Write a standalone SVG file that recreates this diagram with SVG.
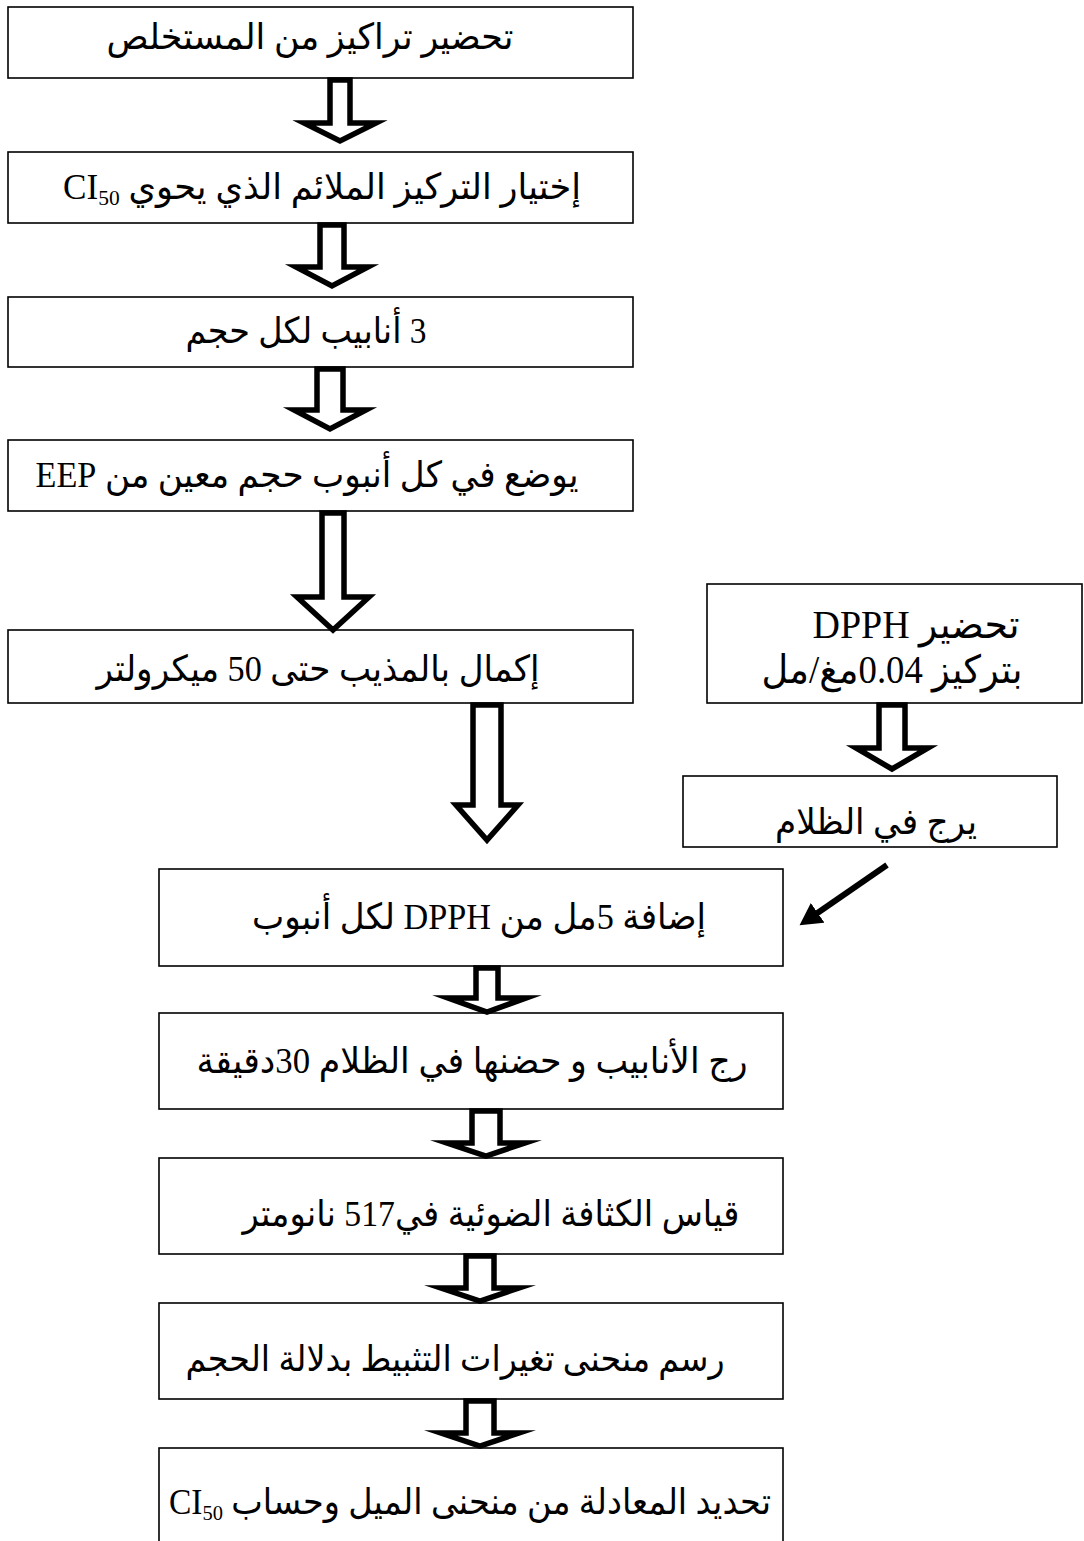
<svg xmlns="http://www.w3.org/2000/svg" width="1084" height="1541" viewBox="0 0 1084 1541">
<style>
.box{fill:#fff;stroke:#000;stroke-width:1.6}
.blk{fill:#fff;stroke:#000;stroke-width:5.5;stroke-linejoin:miter;stroke-miterlimit:10}
.t{font-family:"Liberation Serif","DejaVu Sans",serif;font-size:36px;fill:#000;text-anchor:middle;direction:rtl}
.big{font-size:39px}
.sub{font-size:22px;baseline-shift:-6px}
.diag{stroke:#000;stroke-width:6;fill:none}
</style>
<defs>
<marker id="ah" markerUnits="userSpaceOnUse" markerWidth="24" markerHeight="26" refX="2" refY="12" orient="auto">
<path d="M0,0 L22,12 L0,24 Z" fill="#000"/>
</marker>
</defs>
<rect width="1084" height="1541" fill="#fff"/>
<g id="n1"><rect class="box" x="8" y="7" width="625" height="71"/>
<text class="t" x="310" y="49" textLength="407" lengthAdjust="spacingAndGlyphs">تحضير تراكيز من المستخلص</text></g>
<g id="n2"><rect class="box" x="8" y="152" width="625" height="71"/>
<text class="t" x="322" y="199" textLength="518" lengthAdjust="spacingAndGlyphs">إختيار التركيز الملائم الذي يحوي CI<tspan class="sub">50</tspan></text></g>
<g id="n3"><rect class="box" x="8" y="297" width="625" height="70"/>
<text class="t" x="306" y="343" textLength="241" lengthAdjust="spacingAndGlyphs">3 أنابيب لكل حجم</text></g>
<g id="n4"><rect class="box" x="8" y="440" width="625" height="71"/>
<text class="t" x="307" y="487" textLength="543" lengthAdjust="spacingAndGlyphs">يوضع في كل أنبوب حجم معين من EEP</text></g>
<g id="n5"><rect class="box" x="8" y="630" width="625" height="73"/>
<text class="t" x="318" y="681" textLength="443" lengthAdjust="spacingAndGlyphs">إكمال بالمذيب حتى 50 ميكرولتر</text></g>
<g id="n6"><rect class="box" x="707" y="584" width="375" height="119"/>
<text class="t big" x="916" y="638" textLength="207" lengthAdjust="spacingAndGlyphs">تحضير DPPH</text>
<text class="t big" x="892" y="683" textLength="261" lengthAdjust="spacingAndGlyphs">بتركيز 0.04مغ/مل</text></g>
<g id="n7"><rect class="box" x="683" y="776" width="374" height="71"/>
<text class="t" x="876" y="834" textLength="202" lengthAdjust="spacingAndGlyphs">يرج في الظلام</text></g>
<g id="n8"><rect class="box" x="159" y="869" width="624" height="97"/>
<text class="t" x="479" y="929" textLength="454" lengthAdjust="spacingAndGlyphs">إضافة 5مل من DPPH لكل أنبوب</text></g>
<g id="n9"><rect class="box" x="159" y="1013" width="624" height="96"/>
<text class="t" x="472" y="1073" textLength="551" lengthAdjust="spacingAndGlyphs">رج الأنابيب و حضنها في الظلام 30دقيقة</text></g>
<g id="n10"><rect class="box" x="159" y="1158" width="624" height="96"/>
<text class="t" x="491" y="1226" textLength="497" lengthAdjust="spacingAndGlyphs">قياس الكثافة الضوئية في517 نانومتر</text></g>
<g id="n11"><rect class="box" x="159" y="1303" width="624" height="96"/>
<text class="t" x="455" y="1371" textLength="539" lengthAdjust="spacingAndGlyphs">رسم منحنى تغيرات التثبيط بدلالة الحجم</text></g>
<g id="n12"><rect class="box" x="159" y="1448" width="624" height="100"/>
<text class="t" x="470" y="1514" textLength="602" lengthAdjust="spacingAndGlyphs">تحديد المعادلة من منحنى الميل وحساب CI<tspan class="sub">50</tspan></text></g>
<g id="connectors">
<path class="blk" d="M330,80 L350,80 L350,123 L376,123 L340,141 L304,123 L330,123 Z"/>
<path class="blk" d="M320,225 L344,225 L344,267 L368,267 L332,286 L296,267 L320,267 Z"/>
<path class="blk" d="M317,369 L343,369 L343,410 L366,410 L330,429 L294,410 L317,410 Z"/>
<path class="blk" d="M322,513 L344,513 L344,597 L369,597 L333,630 L297,597 L322,597 Z"/>
<path class="blk" d="M473,705 L501,705 L501,805 L518,805 L487,840 L456,805 L473,805 Z"/>
<path class="blk" d="M879,705 L905,705 L905,748 L928,748 L892,769 L856,748 L879,748 Z"/>
<path class="blk" d="M476,968 L498,968 L498,998 L526,998 L487,1012 L448,998 L476,998 Z"/>
<path class="blk" d="M472,1111 L500,1111 L500,1143 L525,1143 L486,1156 L447,1143 L472,1143 Z"/>
<path class="blk" d="M466,1256 L494,1256 L494,1288 L519,1288 L480,1301 L441,1288 L466,1288 Z"/>
<path class="blk" d="M466,1401 L494,1401 L494,1433 L519,1433 L480,1446 L441,1433 L466,1433 Z"/>
<line class="diag" x1="887" y1="865" x2="816" y2="914" marker-end="url(#ah)"/>
</g>
</svg>
